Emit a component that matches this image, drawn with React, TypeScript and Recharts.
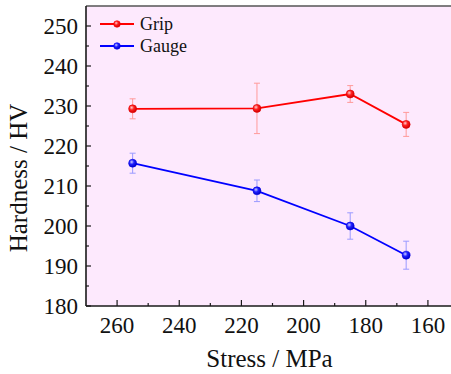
import { LineChart, Line, XAxis, YAxis, CartesianGrid, ErrorBar, ReferenceLine } from 'recharts';

const stress = [255, 215, 185, 167];
const grip = [229.3, 229.4, 233.0, 225.4];
const gripErr = [2.5, 6.3, 2.1, 3.0];
const gauge = [215.7, 208.8, 200.0, 192.7];
const gaugeErr = [2.5, 2.7, 3.3, 3.5];

const xTicks = [160, 170, 180, 190, 200, 210, 220, 230, 240, 250, 260];
const yTicks = [180, 185, 190, 195, 200, 205, 210, 215, 220, 225, 230, 235, 240, 245, 250];

const data = stress.map((s, i) => ({
  stress: s,
  grip: grip[i],
  gripErr: gripErr[i],
  gauge: gauge[i],
  gaugeErr: gaugeErr[i],
}));

const FONT = '"Liberation Serif", "Times New Roman", serif';
const AXIS = '#1a1a1a';
const textStyle = { fontFamily: FONT };

function YTick({ x, y, payload }: any) {
  const major = payload.value % 10 === 0;
  return (
    <g>
      <line x1={x} x2={x + (major ? 5 : 3)} y1={y} y2={y} stroke={AXIS} strokeWidth={1.2} />
      {major && (
        <text x={x - 8} y={y} dy="0.35em" textAnchor="end" fontSize={23} style={textStyle} fill="#111">
          {payload.value}
        </text>
      )}
    </g>
  );
}

function XTick({ x, y, payload }: any) {
  const major = payload.value % 20 === 0;
  return (
    <g>
      <line x1={x} x2={x} y1={y} y2={y - (major ? 6 : 3)} stroke={AXIS} strokeWidth={1.2} />
      {major && (
        <text x={x} y={y + 27} textAnchor="middle" fontSize={23} style={textStyle} fill="#111">
          {payload.value}
        </text>
      )}
    </g>
  );
}

function XTitle({ viewBox }: any) {
  return (
    <text x={viewBox.x + viewBox.width / 2 - 3} y={367} textAnchor="middle" fontSize={25} style={textStyle} fill="#111">
      Stress / MPa
    </text>
  );
}

function YTitle({ viewBox }: any) {
  const cy = viewBox.y + viewBox.height / 2 + 22;
  return (
    <text x={27} y={cy} transform={`rotate(-90 27 ${cy})`} textAnchor="middle" fontSize={25} style={textStyle} fill="#111">
      Hardness / HV
    </text>
  );
}

function LegendBox() {
  const rows = [
    { name: 'Grip', color: '#ff0000', grad: 'url(#ballRed)' },
    { name: 'Gauge', color: '#0000ff', grad: 'url(#ballBlue)' },
  ];
  return (
    <div style={{ position: 'absolute', left: 100, top: 13, fontFamily: FONT, fontSize: 18, color: '#111' }}>
      {rows.map((r) => (
        <div key={r.name} style={{ display: 'flex', alignItems: 'center', height: 22 }}>
          <svg width={34} height={10}>
            <line x1={0} x2={34} y1={5} y2={5} stroke={r.color} strokeWidth={1.8} />
            <circle cx={17} cy={5} r={3.3} fill={r.grad} stroke={r.color} strokeWidth={0.6} />
          </svg>
          <span style={{ marginLeft: 6 }}>{r.name}</span>
        </div>
      ))}
    </div>
  );
}

export default function App() {
  return (
    <div style={{ position: 'absolute', left: 0, top: 0, width: 451, height: 374, overflow: 'hidden', background: '#fff' }}>
      <LineChart width={459} height={374} data={data} margin={{ top: 6, right: 0, bottom: 0, left: 0 }}>
        <defs>
          <radialGradient id="ballRed" cx="38%" cy="35%" r="65%">
            <stop offset="0%" stopColor="#ffd0d0" />
            <stop offset="45%" stopColor="#ff2020" />
            <stop offset="100%" stopColor="#d00000" />
          </radialGradient>
          <radialGradient id="ballBlue" cx="38%" cy="35%" r="65%">
            <stop offset="0%" stopColor="#d0d0ff" />
            <stop offset="45%" stopColor="#2020ff" />
            <stop offset="100%" stopColor="#0000c8" />
          </radialGradient>
        </defs>
        <CartesianGrid fill="#fde9fd" horizontal={false} vertical={false} />
        <XAxis
          type="number"
          dataKey="stress"
          domain={[150, 270]}
          reversed
          ticks={xTicks}
          interval={0}
          tickSize={0}
          tickMargin={0}
          tick={<XTick />}
          height={68}
          axisLine={{ stroke: AXIS, strokeWidth: 1.6 }}
          label={<XTitle />}
        />
        <YAxis
          type="number"
          domain={[180, 255]}
          ticks={yTicks}
          interval={0}
          tickSize={0}
          tickMargin={0}
          tick={<YTick />}
          width={86}
          axisLine={{ stroke: AXIS, strokeWidth: 1.6 }}
          label={<YTitle />}
        />
        <ReferenceLine y={255} stroke="#555" strokeWidth={1.6} />
        <Line
          dataKey="grip"
          name="Grip"
          stroke="#ff0000"
          strokeWidth={1.8}
          dot={{ r: 4, fill: 'url(#ballRed)', stroke: '#e00000', strokeWidth: 0.6 }}
          isAnimationActive={false}
        >
          <ErrorBar dataKey="gripErr" direction="y" width={3} stroke="#ff9a9a" strokeWidth={1} isAnimationActive={false} />
        </Line>
        <Line
          dataKey="gauge"
          name="Gauge"
          stroke="#0000ff"
          strokeWidth={1.8}
          dot={{ r: 4, fill: 'url(#ballBlue)', stroke: '#0000e0', strokeWidth: 0.6 }}
          isAnimationActive={false}
        >
          <ErrorBar dataKey="gaugeErr" direction="y" width={3} stroke="#9a9aff" strokeWidth={1} isAnimationActive={false} />
        </Line>
      </LineChart>
      <LegendBox />
    </div>
  );
}
